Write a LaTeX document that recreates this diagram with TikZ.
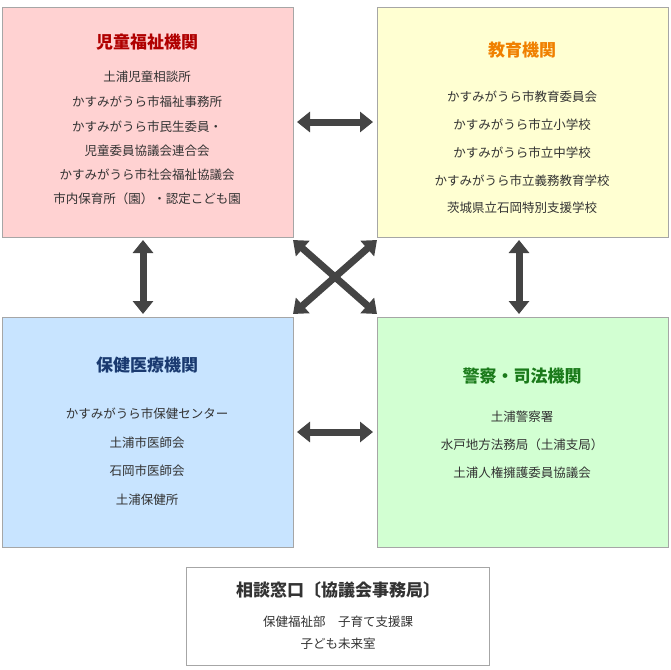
\documentclass[tikz,border=0pt]{standalone}
\usepackage{fontspec}
\setmainfont{Noto Sans CJK JP}
\usetikzlibrary{arrows.meta}
\definecolor{pinkbg}{HTML}{FFD2D2}
\definecolor{yellowbg}{HTML}{FFFFD2}
\definecolor{bluebg}{HTML}{C8E4FF}
\definecolor{greenbg}{HTML}{D2FFD2}
\definecolor{arrowgray}{HTML}{444444}
\definecolor{redttl}{HTML}{B00000}
\definecolor{orangettl}{HTML}{F08000}
\definecolor{bluettl}{HTML}{1A3A70}
\definecolor{greenttl}{HTML}{1A7A1A}
\tikzset{
  panel/.style={draw=black!35,line width=0.8pt},
  ttl/.style={font=\fontsize{17}{20}\selectfont\bfseries},
  item/.style={font=\fontsize{12.5}{14}\selectfont,text=black!80},
  dbl/.style={arrowgray,line width=7pt,{Triangle[width=20pt,length=13pt]}-{Triangle[width=20pt,length=13pt]}}
}
\begin{document}
\begin{tikzpicture}[x=1pt,y=-1pt]
\useasboundingbox (0,0) rectangle (671,669);
\filldraw[panel,fill=pinkbg] (2,7) rectangle (293,237);
\filldraw[panel,fill=yellowbg] (377,7) rectangle (668,237);
\filldraw[panel,fill=bluebg] (2,317) rectangle (293,547);
\filldraw[panel,fill=greenbg] (377,317) rectangle (668,547);
\filldraw[panel,fill=white] (186,567) rectangle (489,665);
% titles
\node[ttl,text=redttl] (t1) at (147,42) {児童福祉機関};
\node[ttl,text=orangettl] (t2) at (522,50) {教育機関};
\node[ttl,text=bluettl] (t3) at (147,365) {保健医療機関};
\node[ttl,text=greenttl] (t4) at (522,376) {警察・司法機関};
\node[ttl,text=black!80] (t5) at (338,590) {相談窓口〔協議会事務局〕};
% lists
\foreach \y/\t in {77/土浦児童相談所,102/かすみがうら市福祉事務所,127/かすみがうら市民生委員・,151/児童委員協議会連合会,175/かすみがうら市社会福祉協議会,199/市内保育所（園）・認定こども園}
  \node[item] at (147,\y) {\t};
\foreach \y/\t in {97/かすみがうら市教育委員会,125/かすみがうら市立小学校,153/かすみがうら市立中学校,181/かすみがうら市立義務教育学校,208/茨城県立石岡特別支援学校}
  \node[item] at (522,\y) {\t};
\foreach \y/\t in {414/かすみがうら市保健センター,443/土浦市医師会,471/石岡市医師会,500/土浦保健所}
  \node[item] at (147,\y) {\t};
\foreach \y/\t in {417/土浦警察署,445/水戸地方法務局（土浦支局）,473/土浦人権擁護委員協議会}
  \node[item] at (522,\y) {\t};
\node[item] (b1) at (338,622) {保健福祉部\quad 子育て支援課};
\node[item] (b2) at (338,644) {子ども未来室};
% arrows
\coordinate (h1a) at (297,122); \coordinate (h1b) at (373,122);
\coordinate (h2a) at (297,432); \coordinate (h2b) at (373,432);
\coordinate (v1a) at (143,240); \coordinate (v1b) at (143,314);
\coordinate (v2a) at (519,240); \coordinate (v2b) at (519,314);
\draw[dbl] (h1a) -- (h1b);
\draw[dbl] (h2a) -- (h2b);
\draw[dbl] (v1a) -- (v1b);
\draw[dbl] (v2a) -- (v2b);
\coordinate (xa) at (293,240); \coordinate (xb) at (377,314);
\coordinate (xc) at (293,314); \coordinate (xd) at (377,240);
\draw[dbl] (xa) -- (xb);
\draw[dbl] (xc) -- (xd);
\end{tikzpicture}
\end{document}
